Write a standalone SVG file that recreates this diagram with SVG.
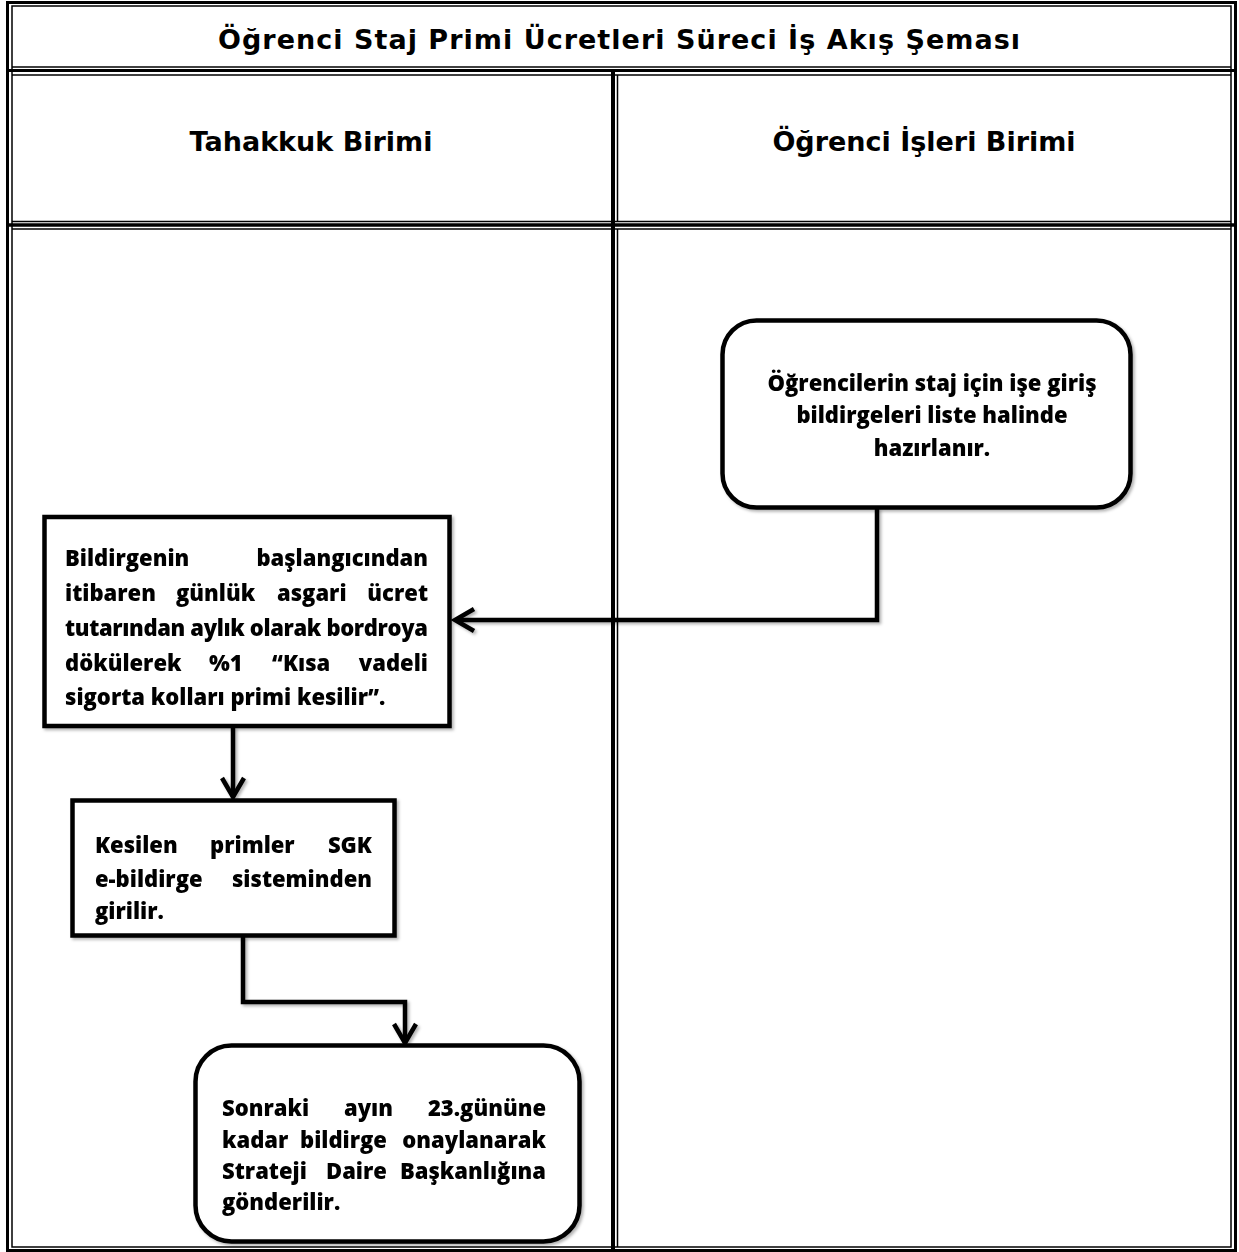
<svg xmlns="http://www.w3.org/2000/svg" width="1239" height="1252" viewBox="0 0 1239 1252">
<style>
.thick{stroke:#000;stroke-width:3;fill:none}
.thin{stroke:#000;stroke-width:1.5;fill:none}
.hdr{font-family:"DejaVu Sans",Verdana,sans-serif;font-weight:bold;font-size:27px;fill:#000}
.box{fill:#fff;stroke:#000;stroke-width:4.5}
.t{font-family:"Open Sans","Liberation Sans",sans-serif;font-weight:800;font-size:22px;fill:#000}
.con{fill:none;stroke:#000;stroke-width:4.5;stroke-linejoin:miter}
</style>
<defs>
<filter id="sh" x="-10%" y="-10%" width="130%" height="130%">
<feDropShadow dx="2" dy="2" stdDeviation="1.5" flood-color="#000" flood-opacity="0.3"/>
</filter>
</defs>
<rect width="1239" height="1252" fill="#fff"/>
<g id="table">
<rect class="thick" x="7.5" y="2.5" width="1228" height="1248"/>
<rect class="thin" x="12" y="6" width="1219" height="1241"/>
<line class="thin" x1="12" y1="67" x2="1231" y2="67"/>
<line class="thick" x1="7" y1="70.5" x2="1236" y2="70.5"/>
<line class="thin" x1="12" y1="75" x2="1231" y2="75"/>
<line class="thin" x1="12" y1="221.5" x2="1231" y2="221.5"/>
<line class="thick" x1="7" y1="225" x2="1236" y2="225" style="stroke-width:3.5"/>
<line class="thin" x1="12" y1="229" x2="1231" y2="229"/>
<line class="thick" x1="613" y1="70" x2="613" y2="1252" style="stroke-width:4"/>
<line class="thin" x1="617.5" y1="75" x2="617.5" y2="221.5"/>
<line class="thin" x1="617.5" y1="229" x2="617.5" y2="1247"/>
<text class="hdr" x="619" y="49" text-anchor="middle" textLength="802" lengthAdjust="spacing">Öğrenci Staj Primi Ücretleri Süreci İş Akış Şeması</text>
<text class="hdr" x="311" y="151" text-anchor="middle">Tahakkuk Birimi</text>
<text class="hdr" x="924" y="151" text-anchor="middle">Öğrenci İşleri Birimi</text>
</g>
<g id="connectors" filter="url(#sh)">
<path class="con" d="M877 508 V620 H456"/>
<path class="con" d="M474 609 L455 620 L474 631"/>
<path class="con" d="M233 727 V797"/>
<path class="con" d="M222 778 L233 797 L244 778"/>
<path class="con" d="M243 936 V1002 H405 V1043"/>
<path class="con" d="M394 1024 L405 1043 L416 1024"/>
</g>
<g id="n1" filter="url(#sh)">
<rect class="box" x="722.5" y="320.5" width="408" height="187" rx="34"/>
<text class="t" text-anchor="middle"><tspan x="932" y="391">Öğrencilerin staj için işe giriş</tspan><tspan x="932" y="423">bildirgeleri liste halinde</tspan><tspan x="932" y="456">hazırlanır.</tspan></text>
</g>
<g id="n2" filter="url(#sh)">
<rect class="box" x="44.5" y="517" width="405" height="209"/>
<text class="t"><tspan x="65" y="566">Bildirgenin</tspan><tspan x="428" y="566" text-anchor="end">başlangıcından</tspan></text>
<text class="t"><tspan x="65" y="601">itibaren</tspan><tspan x="176" y="601">günlük</tspan><tspan x="277" y="601">asgari</tspan><tspan x="428" y="601" text-anchor="end">ücret</tspan></text>
<text class="t" x="65" y="636" textLength="363" lengthAdjust="spacing">tutarından aylık olarak bordroya</text>
<text class="t"><tspan x="65" y="671">dökülerek</tspan><tspan x="209" y="671">%1</tspan><tspan x="272" y="671">“Kısa</tspan><tspan x="428" y="671" text-anchor="end">vadeli</tspan></text>
<text class="t"><tspan x="65" y="705">sigorta kolları primi kesilir”.</tspan></text>
</g>
<g id="n3" filter="url(#sh)">
<rect class="box" x="72.5" y="800.5" width="322" height="135"/>
<text class="t"><tspan x="95" y="853">Kesilen</tspan><tspan x="210" y="853">primler</tspan><tspan x="372" y="853" text-anchor="end">SGK</tspan></text>
<text class="t"><tspan x="95" y="887">e-bildirge</tspan><tspan x="372" y="887" text-anchor="end">sisteminden</tspan></text>
<text class="t"><tspan x="95" y="919">girilir.</tspan></text>
</g>
<g id="n4" filter="url(#sh)">
<rect class="box" x="195.5" y="1045.5" width="384" height="196" rx="36"/>
<text class="t"><tspan x="222" y="1116">Sonraki</tspan><tspan x="344" y="1116">ayın</tspan><tspan x="546" y="1116" text-anchor="end">23.gününe</tspan></text>
<text class="t"><tspan x="222" y="1148">kadar</tspan><tspan x="300" y="1148">bildirge</tspan><tspan x="546" y="1148" text-anchor="end">onaylanarak</tspan></text>
<text class="t"><tspan x="222" y="1179">Strateji</tspan><tspan x="326" y="1179">Daire</tspan><tspan x="546" y="1179" text-anchor="end">Başkanlığına</tspan></text>
<text class="t"><tspan x="222" y="1210">gönderilir.</tspan></text>
</g>
</svg>
